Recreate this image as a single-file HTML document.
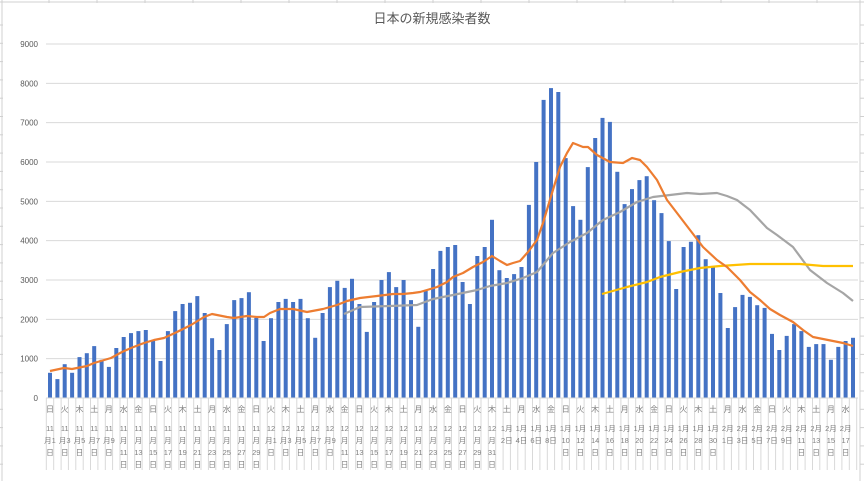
<!DOCTYPE html>
<html><head><meta charset="utf-8">
<style>
html,body{margin:0;padding:0;background:#fff;}
svg{display:block;font-family:"Liberation Sans","Noto Sans CJK JP",sans-serif;}
</style></head>
<body>
<svg id="c" width="864" height="481" viewBox="0 0 864 481" xmlns="http://www.w3.org/2000/svg"></svg>
<script>
const s=document.getElementById('c');let h='';
// spreadsheet bits
h+='<rect x="0" y="0" width="864" height="481" fill="#fff"/>';
h+='<line x1="2" y1="0" x2="2" y2="481" stroke="#d0d0d0"/>';
h+='<line x1="0" y1="2" x2="864" y2="2" stroke="#d0d0d0"/>';
for(let x=49;x<864;x+=48)h+=`<line x1="${x}" y1="0" x2="${x}" y2="3" stroke="#d0d0d0"/>`;
for(let y=25;y<481;y+=18.3)h+=`<line x1="0" y1="${y}" x2="3" y2="${y}" stroke="#d0d0d0"/><line x1="860" y1="${y}" x2="864" y2="${y}" stroke="#d0d0d0"/>`;
h+='<line x1="860" y1="0" x2="860" y2="481" stroke="#d0d0d0"/>';
h+='<text x="432" y="23" text-anchor="middle" font-size="13" fill="#595959">日本の新規感染者数</text>';
const y0=398,k=0.039333;
for(let v=0;v<=9000;v+=1000){const y=y0-v*k;
 h+=`<line x1="46" y1="${y}" x2="858" y2="${y}" stroke="#d9d9d9" stroke-width="1"/>`;
 h+=`<text x="38" y="${y+3}" text-anchor="end" font-size="8" fill="#595959">${v}</text>`;}
const d=[640,480,860,640,1040,1140,1320,970,790,1270,1550,1650,1700,1730,1450,940,1700,2210,2390,2420,2590,2160,1520,1220,1880,2490,2540,2690,2040,
1450,2030,2440,2520,2440,2520,2030,1530,2160,2820,2980,2800,3030,2390,1680,2440,3000,3200,2820,3000,2490,1810,2720,3280,3740,3840,3890,2950,2390,3610,
3840,4530,3250,3050,3150,3330,4910,6000,7580,7880,7780,6100,4880,4530,5870,6610,7120,7020,5750,4930,5310,5540,5640,5030,4700,3990,
2770,3840,3970,4140,3530,3330,2670,1780,2310,2620,2570,2360,2290,1630,1220,1580,1880,1700,1300,1370,1370,970,1300,1450,1530];
const n=d.length,x0=50,dx=(853-50)/(n-1);
d.forEach((v,i)=>{const x=x0+i*dx;h+=`<rect x="${(x-2).toFixed(1)}" y="${(y0-v*k).toFixed(1)}" width="4" height="${(v*k).toFixed(1)}" fill="#4472C4"/>`;});
// axis ticks
for(let i=0;i<=n;i++){const x=x0-dx/2+i*dx;h+=`<line x1="${x.toFixed(1)}" y1="398" x2="${x.toFixed(1)}" y2="470" stroke="#d9d9d9" stroke-width="1"/>`;}
h+='<line x1="46" y1="398" x2="858" y2="398" stroke="#d9d9d9"/>';
const dow=['日','月','火','水','木','金','土'];
for(let i=0;i<n;i+=2){const x=x0+i*dx;const dt=new Date(2020,10,1+i);const m=dt.getMonth()+1,dd=dt.getDate();
 h+=`<text x="${x}" y="412" text-anchor="middle" font-size="8" fill="#7f7f7f">${dow[dt.getDay()]}</text>`;
 let lines;
 if(m>=10){lines=dd<10?[String(m),'月'+dd,'日']:[String(m),'月',String(dd),'日'];}
 else{lines=dd<10?[m+'月',dd+'日']:[m+'月',String(dd),'日'];}
 lines.forEach((t,j)=>{h+=`<text x="${x}" y="${431+j*12}" text-anchor="middle" font-size="7.5" fill="#7f7f7f">${t}</text>`;});}
function pl(p,c){return `<polyline fill="none" stroke="${c}" stroke-width="2.2" stroke-linejoin="round" points="${p.map(a=>a.join(',')).join(' ')}"/>`;}
const orange=[[50,371],[64,368],[72,369],[87,366],[94,363],[111,358],[122,352],[131,348],[144,343],[154,340],[164,338],[177,332],[191,325],[204,317],[212,314],[227,317],[234,318],[247,316],[257,317],[264,317],[270,313],[280,309],[293,309],[307,312],[323,309],[337,305],[347,301],[360,298],[377,296],[393,294],[403,294],[413,293],[420,292],[427,290],[437,287],[447,282],[453,277],[463,273],[473,267],[483,262],[492,256],[500,261],[507,265],[513,263],[520,261],[528,252],[537,240],[543,223],[552,193],[560,167],[567,153],[573,143],[583,147],[588,147],[597,155],[610,162],[623,163],[632,158],[640,160],[647,167],[657,180],[667,200],[677,213],[690,230],[703,247],[717,260],[727,267],[740,280],[750,292],[760,300],[770,309],[780,315],[793,322],[803,330],[813,337],[823,339],[833,341],[843,343],[853,346]];
const gray=[[344,314],[360,307],[390,306],[417,305],[433,299],[453,295],[477,290],[490,286],[507,283],[523,278],[537,272],[553,253],[570,242],[587,233],[603,220],[620,212],[637,202],[653,197],[670,195],[687,193],[700,194],[717,193],[727,196],[737,200],[750,210],[767,228],[777,235],[793,247],[810,270],[827,283],[843,293],[853,301]];
const yel=[[602,294],[627,287],[647,282],[660,277],[680,272],[700,268],[720,266],[750,264],[800,264],[823,266],[853,266]];
h+=pl(gray,'#A5A5A5')+pl(yel,'#FFC000')+pl(orange,'#ED7D31');
s.innerHTML=h;
</script>
</body></html>
